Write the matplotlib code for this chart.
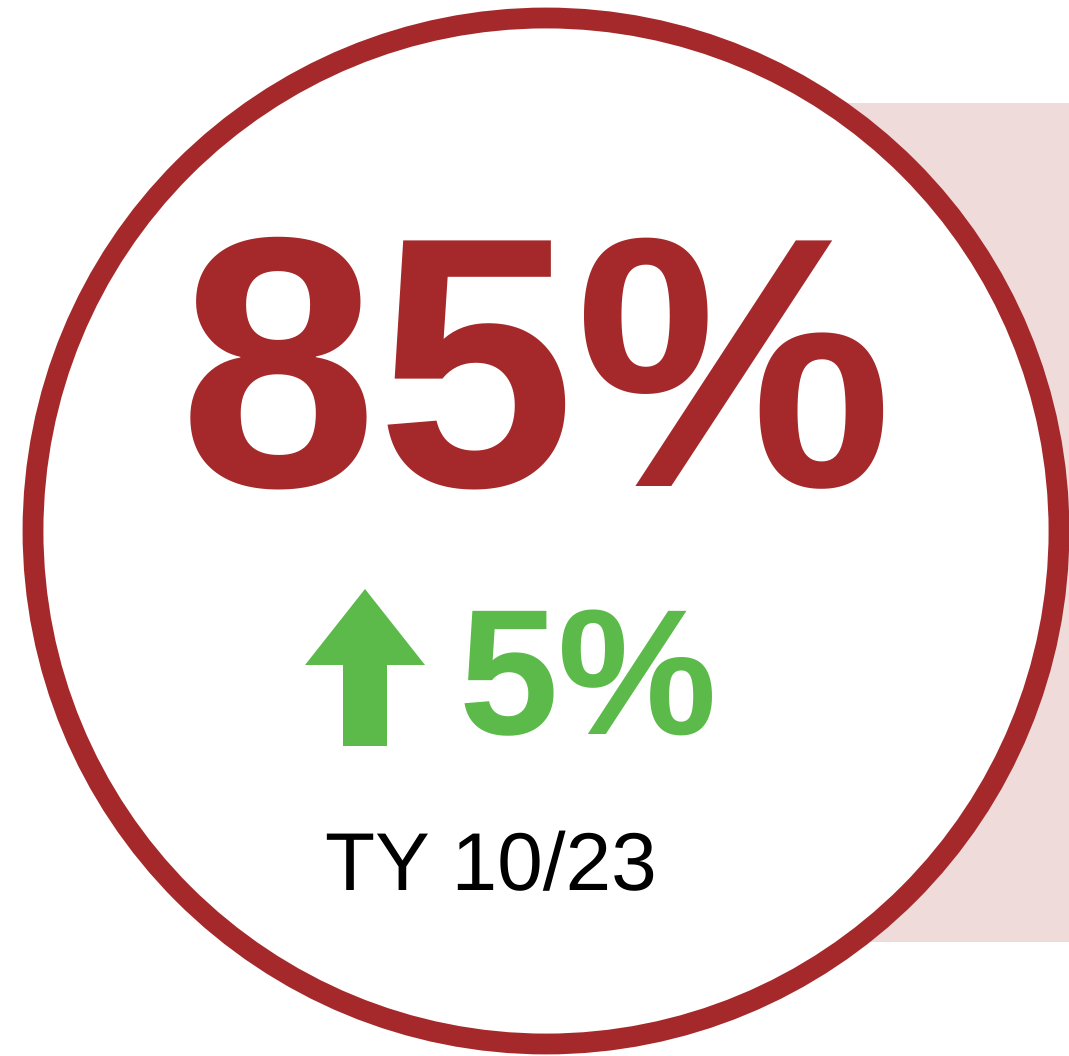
import matplotlib
matplotlib.use("Agg")
import matplotlib.pyplot as plt
from matplotlib.patches import Circle, Rectangle, Polygon

plt.rcParams["text.hinting"] = "no_hinting"
plt.rcParams["text.hinting_factor"] = 1

# kpi values
main_value = 85
change_value = 5
period_label = "TY 10/23"

RED = "#A5282A"
GREEN = "#5BBA4A"
PINK = "#EFDBDA"


def main():
    fig = plt.figure(figsize=(10.69, 10.56), dpi=100)
    ax = fig.add_axes([0, 0, 1, 1])
    ax.set_xlim(0, 1069)
    ax.set_ylim(1056, 0)
    ax.axis("off")

    # pink card behind the ring
    ax.add_patch(Rectangle((546, 103), 523, 839, facecolor=PINK, edgecolor="none", zorder=1))
    # ring
    ax.add_patch(Circle((546, 531), 513, facecolor="white", edgecolor=RED, linewidth=15, zorder=2))

    ax.text(536, 486, f"{main_value}%", color=RED, fontsize=257, fontweight="bold",
            family="Liberation Sans", ha="center", va="baseline", zorder=3)

    # up arrow
    ax.add_patch(Polygon([(305, 665), (365, 589), (425, 665), (387, 665), (387, 746),
                          (343, 746), (343, 665)], closed=True, facecolor=GREEN,
                         edgecolor="none", zorder=3))
    ax.text(588, 734, f"{change_value}%", color=GREEN, fontsize=129, fontweight="bold",
            family="Liberation Sans", ha="center", va="baseline", zorder=3)

    ax.text(491, 890, period_label, color="black", fontsize=59,
            family="Liberation Sans", ha="center", va="baseline", zorder=3)

    fig.savefig("out.png", dpi=100)


if __name__ == "__main__":
    main()
